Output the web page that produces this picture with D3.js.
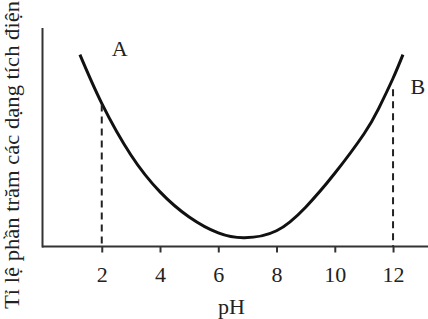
<html>
<head>
    <meta charset="UTF-8">
    <script src="https://d3js.org/d3.v7.min.js"></script>
    <title>pH chart</title>
    <style>
        body { margin: 0; background: #fff; }
        text { font-family: "Liberation Serif", "DejaVu Serif", serif; fill: #222; }
    </style>
</head>
<body>
    <svg width="428" height="319"></svg>

    <script>
        // diem doc tu hinh: pH va ti le (%)
        const pH = [1.25, 2.0, 3.0, 4.0, 5.0, 6.0, 6.9, 8.0, 9.0, 10.0, 11.0, 11.5, 12.0, 12.34];
        const tiLe = [87.8, 65.5, 41.9, 25.0, 13.5, 6.2, 4.0, 7.2, 18.0, 33.5, 51.5, 63.0, 77.0, 87.8];
        const xTicks = [2, 4, 6, 8, 10, 12];
        const duongDut = [{ x: 2, y: 65 }, { x: 12, y: 72 }];
        const nhan = [{ t: 'A', x: 2.62, y: 87 }, { t: 'B', x: 12.85, y: 70 }];

        const svg = d3.select('svg');

        const x = d3.scaleLinear().domain([0, 13.2]).range([43.5, 428]);
        const y = d3.scaleLinear().domain([0, 100]).range([246.5, 28]);

        // truc x
        const gx = svg.append('g')
            .attr('transform', 'translate(0,' + y(0) + ')')
            .call(d3.axisBottom(x).tickValues(xTicks).tickSize(6).tickPadding(14).tickSizeOuter(0));
        gx.select('.domain').attr('stroke', '#333').attr('stroke-width', 2)
            .attr('d', 'M42,0H428');
        gx.selectAll('.tick line').attr('stroke', '#333').attr('stroke-width', 2);
        gx.selectAll('.tick text')
            .style('font-family', '"Liberation Serif", serif')
            .style('font-size', '22px')
            .attr('fill', '#222');

        // truc y
        svg.append('line')
            .attr('x1', 42.5).attr('x2', 42.5)
            .attr('y1', y(100)).attr('y2', y(0) + 1)
            .attr('stroke', '#333').attr('stroke-width', 2);

        // duong cong
        const pts = pH.map((d, i) => [d, tiLe[i]]);
        svg.append('path')
            .datum(pts)
            .attr('fill', 'none')
            .attr('stroke', '#111')
            .attr('stroke-width', 3)
            .attr('d', d3.line()
                .x(d => x(d[0]))
                .y(d => y(d[1]))
                .curve(d3.curveNatural));

        // duong net dut
        svg.selectAll('.dut')
            .data(duongDut)
            .join('line')
            .attr('class', 'dut')
            .attr('x1', d => x(d.x)).attr('x2', d => x(d.x))
            .attr('y1', d => y(d.y)).attr('y2', y(0))
            .attr('stroke', '#222')
            .attr('stroke-width', 2)
            .attr('stroke-dasharray', '7,5');

        // nhan A, B
        svg.selectAll('.nhan')
            .data(nhan)
            .join('text')
            .attr('class', 'nhan')
            .attr('x', d => x(d.x))
            .attr('y', d => y(d.y))
            .attr('text-anchor', 'middle')
            .style('font-size', '22px')
            .text(d => d.t);

        // tieu de truc
        svg.append('text')
            .attr('x', x(6.45))
            .attr('y', 314)
            .attr('text-anchor', 'middle')
            .style('font-size', '22px')
            .text('pH');

        svg.append('text')
            .attr('transform', 'translate(19,155) rotate(-90)')
            .attr('text-anchor', 'middle')
            .attr('textLength', 308)
            .attr('lengthAdjust', 'spacingAndGlyphs')
            .style('font-size', '21px')
            .text('Tỉ lệ phần trăm các dạng tích điện');
    </script>
</body>
</html>
